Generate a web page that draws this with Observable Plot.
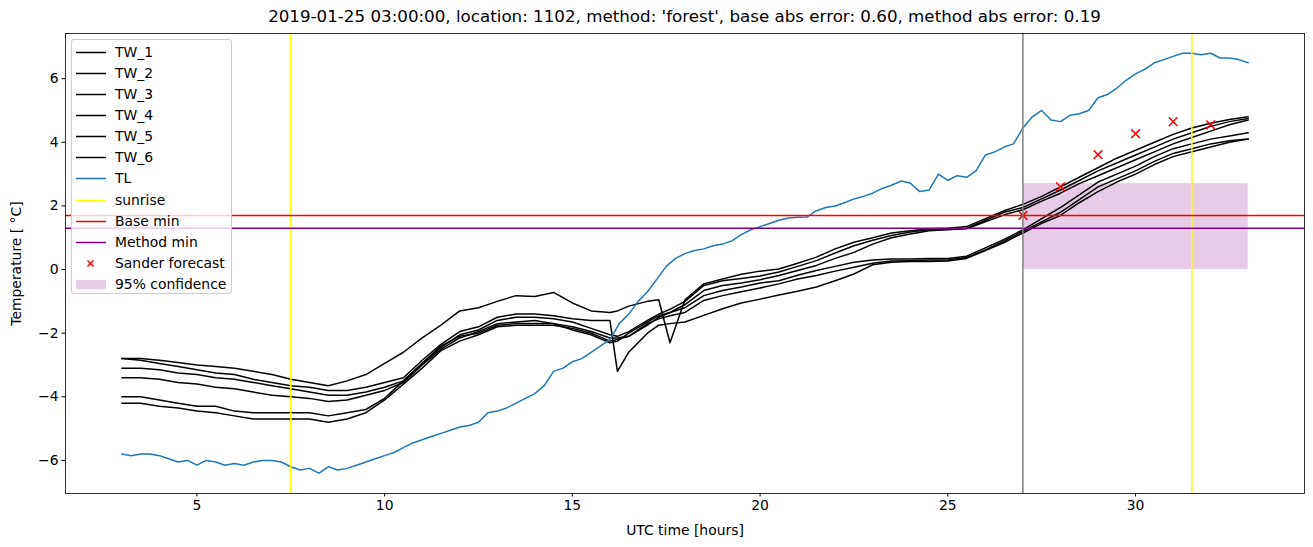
<!DOCTYPE html>
<html>
<head>
<meta charset="utf-8">
<script src="https://cdn.jsdelivr.net/npm/d3@7"></script>
<script src="https://cdn.jsdelivr.net/npm/@observablehq/plot@0.6"></script>
<style>
  html, body { margin: 0; padding: 0; background: white; }
  #wrap { position: relative; width: 1313px; height: 547px; font-family: "DejaVu Sans", sans-serif; }
  #title { position: absolute; left: 65px; width: 1239px; top: 6px; text-align: center; font-size: 16.7px; line-height: 20px; color: black; white-space: nowrap; }
  #legend { position: absolute; left: 71px; top: 39px; width: 161px; height: 255px; background: rgba(255,255,255,0.8); border: 1px solid #cccccc; border-radius: 3px; box-sizing: border-box; }
  .lrow { position: absolute; left: 0; height: 21px; width: 159px; }
  .lrow svg { position: absolute; left: 3px; top: 0; }
  .lrow span { position: absolute; left: 43px; top: 0; font-size: 13.9px; line-height: 21px; color: black; white-space: nowrap; }
</style>
</head>
<body>
<div id="wrap">
  <div id="chart"></div>
  <div id="title"></div>
  <div id="legend"></div>
</div>
<script>
// ---------- data ----------
const titleText = "2019-01-25 03:00:00, location: 1102, method: 'forest', base abs error: 0.60, method abs error: 0.19";

const twHours = [3,3.5,4,4.5,5,5.5,6,6.5,7,7.5,8,8.5,9,9.5,10,10.5,11,11.5,12,12.5,13,13.5,14,14.5,15,15.5,16,16.2,16.5,17,17.3,17.6,18,18.5,19,19.5,20,20.5,21,21.5,22,22.5,23,23.5,24,24.5,25,25.5,26,26.5,27,27.5,28,28.5,29,29.5,30,30.5,31,31.5,32,32.5,33];

const TW_1 = [-2.8,-2.8,-2.85,-2.92,-3.0,-3.05,-3.1,-3.2,-3.3,-3.45,-3.55,-3.65,-3.5,-3.3,-2.95,-2.6,-2.15,-1.75,-1.3,-1.2,-1.0,-0.82,-0.85,-0.72,-1.05,-1.3,-1.35,-1.3,-1.15,-1.0,-0.95,-2.3,-0.95,-0.45,-0.3,-0.15,-0.05,0.02,0.2,0.39,0.65,0.86,1.0,1.15,1.22,1.28,1.3,1.35,1.6,1.85,2.05,2.3,2.6,2.9,3.2,3.5,3.75,4.0,4.25,4.45,4.6,4.72,4.8];
const TW_2 = [-2.8,-2.85,-2.95,-3.05,-3.15,-3.25,-3.3,-3.45,-3.55,-3.65,-3.7,-3.8,-3.8,-3.7,-3.55,-3.4,-2.85,-2.35,-1.95,-1.8,-1.5,-1.4,-1.4,-1.45,-1.55,-1.6,-1.6,-3.2,-2.6,-2.0,-1.75,-1.7,-1.65,-1.44,-1.23,-1.05,-0.93,-0.8,-0.68,-0.55,-0.35,-0.14,0.15,0.23,0.25,0.25,0.27,0.35,0.6,0.85,1.15,1.45,1.7,2.1,2.45,2.75,3.0,3.3,3.55,3.7,3.85,4.0,4.1];
const TW_3 = [-3.1,-3.1,-3.15,-3.25,-3.3,-3.4,-3.45,-3.55,-3.65,-3.75,-3.85,-3.95,-3.95,-3.85,-3.7,-3.5,-2.95,-2.45,-2.05,-1.9,-1.6,-1.5,-1.5,-1.55,-1.65,-1.85,-2.05,-2.1,-1.95,-1.6,-1.4,-1.25,-1.0,-0.5,-0.35,-0.28,-0.2,-0.08,0.1,0.28,0.52,0.75,0.92,1.07,1.18,1.25,1.28,1.3,1.55,1.8,1.95,2.22,2.5,2.8,3.1,3.35,3.6,3.85,4.1,4.3,4.5,4.65,4.75];
const TW_4 = [-3.4,-3.4,-3.45,-3.55,-3.6,-3.7,-3.75,-3.85,-3.95,-4.0,-4.05,-4.15,-4.1,-3.95,-3.8,-3.55,-3.0,-2.5,-2.15,-1.95,-1.7,-1.65,-1.6,-1.7,-1.8,-1.95,-2.15,-2.15,-2.1,-1.75,-1.5,-1.35,-1.1,-0.66,-0.5,-0.42,-0.32,-0.19,-0.03,0.13,0.35,0.54,0.8,1.0,1.12,1.22,1.25,1.28,1.5,1.72,1.88,2.15,2.4,2.7,2.95,3.2,3.45,3.7,3.95,4.15,4.35,4.55,4.7];
const TW_5 = [-4.0,-4.0,-4.1,-4.2,-4.3,-4.3,-4.45,-4.5,-4.5,-4.5,-4.5,-4.6,-4.5,-4.4,-4.05,-3.5,-2.95,-2.4,-2.1,-2.0,-1.75,-1.7,-1.7,-1.7,-1.9,-2.05,-2.3,-2.25,-2.0,-1.65,-1.45,-1.35,-1.2,-0.82,-0.66,-0.55,-0.42,-0.35,-0.18,-0.03,0.1,0.23,0.3,0.33,0.33,0.35,0.35,0.42,0.68,0.95,1.25,1.6,1.95,2.35,2.75,3.0,3.25,3.55,3.8,3.95,4.1,4.2,4.3];
const TW_6 = [-4.2,-4.2,-4.3,-4.35,-4.45,-4.5,-4.6,-4.7,-4.7,-4.7,-4.7,-4.8,-4.7,-4.5,-4.1,-3.6,-3.1,-2.55,-2.25,-2.05,-1.8,-1.75,-1.75,-1.75,-1.85,-2.0,-2.25,-2.2,-2.1,-1.7,-1.55,-1.45,-1.35,-0.97,-0.82,-0.7,-0.58,-0.45,-0.3,-0.19,-0.05,0.07,0.2,0.27,0.28,0.3,0.3,0.38,0.62,0.9,1.2,1.5,1.8,2.2,2.6,2.85,3.1,3.4,3.65,3.8,3.95,4.05,4.1];

const tlHours = d3.range(121).map(i => 3 + i * 0.25);
const TL = [-5.8,-5.85,-5.8,-5.8,-5.85,-5.95,-6.05,-6.0,-6.15,-6.0,-6.05,-6.15,-6.1,-6.15,-6.05,-6.0,-6.0,-6.05,-6.2,-6.3,-6.25,-6.4,-6.2,-6.3,-6.25,-6.15,-6.05,-5.95,-5.85,-5.75,-5.6,-5.45,-5.35,-5.25,-5.15,-5.05,-4.95,-4.9,-4.8,-4.5,-4.45,-4.35,-4.2,-4.05,-3.9,-3.65,-3.2,-3.1,-2.9,-2.8,-2.6,-2.4,-2.2,-1.7,-1.4,-1.0,-0.7,-0.3,0.1,0.35,0.5,0.6,0.65,0.75,0.8,0.9,1.1,1.25,1.35,1.45,1.55,1.62,1.64,1.65,1.85,1.95,2.0,2.1,2.22,2.3,2.4,2.55,2.65,2.78,2.72,2.45,2.5,3.0,2.8,2.95,2.9,3.1,3.6,3.7,3.85,3.95,4.45,4.8,5.0,4.7,4.65,4.85,4.9,5.0,5.4,5.5,5.7,5.95,6.15,6.3,6.5,6.6,6.7,6.8,6.8,6.75,6.8,6.65,6.65,6.6,6.5];

const sunrise = [7.5, 31.5];
const forecastStart = 27;
const baseMin = 1.7;
const methodMin = 1.3;
const sanderHours = [27, 28, 29, 30, 31, 32];
const sanderValues = [1.7, 2.6, 3.61, 4.27, 4.65, 4.55];
const confidence = {x1: 27, x2: 33, y1: 0, y2: 2.7};

const xTicks = [5, 10, 15, 20, 25, 30];
const yTicks = [-6, -4, -2, 0, 2, 4, 6];

const twNames = ["TW_1","TW_2","TW_3","TW_4","TW_5","TW_6"];
const twSeries = [TW_1, TW_2, TW_3, TW_4, TW_5, TW_6];

// ---------- build tables ----------
const twRows = [];
twSeries.forEach((vals, k) => vals.forEach((v, i) => twRows.push({series: twNames[k], h: twHours[i], v})));
const tlRows = TL.map((v, i) => ({h: tlHours[i], v}));
const sanderRows = sanderValues.map((v, i) => ({h: sanderHours[i], v}));

const chart = Plot.plot({
  width: 1313,
  height: 547,
  marginLeft: 65,
  marginRight: 9,
  marginTop: 33,
  marginBottom: 54,
  style: {fontFamily: "DejaVu Sans", fontSize: "13.9px", background: "white", color: "black", overflow: "visible"},
  x: {domain: [1.5, 34.5]},
  y: {domain: [-7.04, 7.42]},
  marks: [
    Plot.rect([confidence], {x1: "x1", x2: "x2", y1: "y1", y2: "y2", fill: "purple", fillOpacity: 0.2}),
    Plot.line(twRows, {x: "h", y: "v", z: "series", stroke: "black", strokeWidth: 1.5, strokeLinejoin: "round"}),
    Plot.line(tlRows, {x: "h", y: "v", stroke: "#1f77b4", strokeWidth: 1.5}),
    Plot.ruleX(sunrise, {stroke: "yellow", strokeWidth: 1.5}),
    Plot.ruleY([baseMin], {stroke: "red", strokeWidth: 1.5}),
    Plot.ruleY([methodMin], {stroke: "purple", strokeWidth: 1.5}),
    Plot.dot(sanderRows, {x: "h", y: "v", symbol: "times", stroke: "red", strokeWidth: 1.5, r: 4}),
    Plot.ruleX([forecastStart], {stroke: "gray", strokeWidth: 1.5}),
    Plot.frame({stroke: "black", strokeWidth: 0.8}),
    Plot.axisX({ticks: xTicks, tickSize: 3.5, tickPadding: 3.5, fontSize: 13.9, label: "UTC time [hours]", labelAnchor: "center", labelArrow: "none", labelOffset: 41}),
    Plot.axisY({ticks: yTicks, tickSize: 3.5, tickPadding: 3.5, fontSize: 13.9, label: "Temperature [ °C]", labelAnchor: "center", labelArrow: "none", labelOffset: 54})
  ]
});
document.getElementById("chart").appendChild(chart);
document.getElementById("title").textContent = titleText;

// ---------- legend ----------
const legendItems = [
  ...twNames.map(n => ({label: n, kind: "line", color: "black"})),
  {label: "TL", kind: "line", color: "#1f77b4"},
  {label: "sunrise", kind: "line", color: "yellow"},
  {label: "Base min", kind: "line", color: "red"},
  {label: "Method min", kind: "line", color: "purple"},
  {label: "Sander forecast", kind: "x", color: "red"},
  {label: "95% confidence", kind: "rect", color: "purple"}
];
const legend = document.getElementById("legend");
legendItems.forEach((it, i) => {
  const row = document.createElement("div");
  row.className = "lrow";
  row.style.top = (1.5 + 21.15 * i) + "px";
  let g = "";
  if (it.kind === "line") g = `<line x1="1" x2="31" y1="10.5" y2="10.5" stroke="${it.color}" stroke-width="1.5"/>`;
  if (it.kind === "x") g = `<path d="M12.5,7.5L18.5,13.5M12.5,13.5L18.5,7.5" stroke="${it.color}" stroke-width="1.5"/>`;
  if (it.kind === "rect") g = `<rect x="1" y="6" width="30" height="9" fill="${it.color}" fill-opacity="0.2"/>`;
  row.innerHTML = `<svg width="34" height="21">${g}</svg><span>${it.label}</span>`;
  legend.appendChild(row);
});
</script>
</body>
</html>
